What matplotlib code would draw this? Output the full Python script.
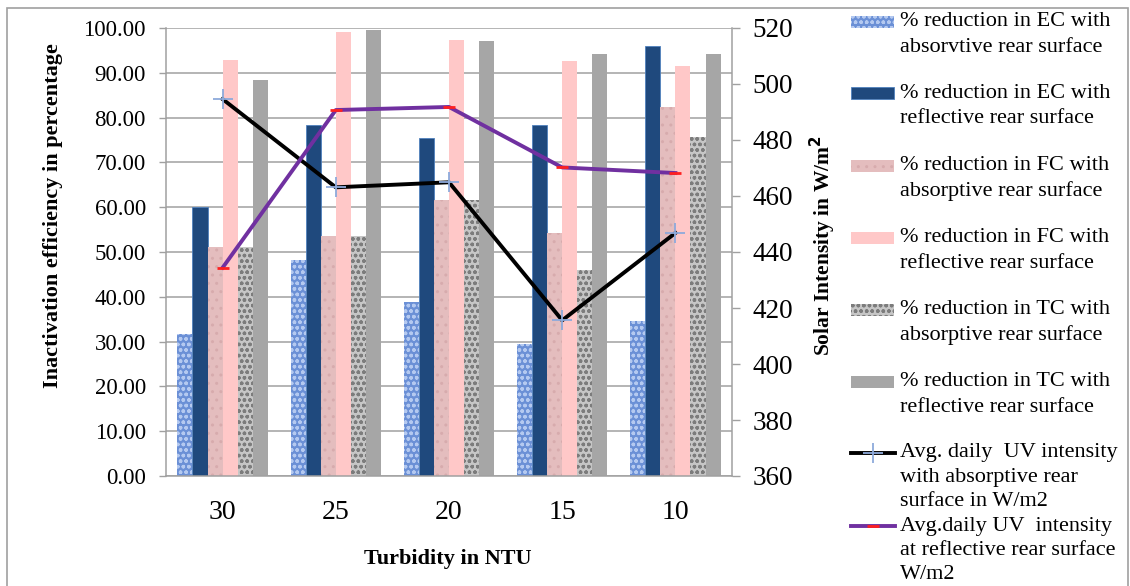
import matplotlib
matplotlib.use("Agg")
import matplotlib.pyplot as plt
import numpy as np
from matplotlib.patches import Rectangle
from matplotlib.lines import Line2D

plt.rcParams['font.family'] = ['Liberation Serif', 'DejaVu Serif']
plt.rcParams['hatch.linewidth'] = 1.0

# ---- data ----
turbidity = ['30', '25', '20', '15', '10']
ec_abs = [31.6, 48.2, 38.8, 29.4, 34.5]
ec_ref = [60.0, 78.3, 75.4, 78.3, 96.0]
fc_abs = [51.2, 53.5, 61.5, 54.2, 82.3]
fc_ref = [92.9, 99.2, 97.4, 92.6, 91.5]
tc_abs = [51.2, 53.5, 61.5, 45.9, 75.6]
tc_ref = [88.4, 99.5, 97.2, 94.1, 94.1]
uv_abs = [494.6, 463.1, 464.9, 415.6, 446.8]
uv_ref = [434.4, 490.7, 491.8, 470.2, 468.2]
left_ticks = [0, 10, 20, 30, 40, 50, 60, 70, 80, 90, 100]
right_ticks = [360, 380, 400, 420, 440, 460, 480, 500, 520]

labels = [
    ['% reduction in EC with', 'absorvtive rear surface'],
    ['% reduction in EC with', 'reflective rear surface'],
    ['% reduction in FC with', 'absorptive rear surface'],
    ['% reduction in FC with', 'reflective rear surface'],
    ['% reduction in TC with', 'absorptive rear surface'],
    ['% reduction in TC with', 'reflective rear surface'],
    ['Avg. daily  UV intensity', 'with absorptive rear', 'surface in W/m2'],
    ['Avg.daily UV  intensity', 'at reflective rear surface', 'W/m2'],
]

W, H = 1130, 586
fig = plt.figure(figsize=(W / 100, H / 100), dpi=100)

def fx(px):
    return px / W

def fy(py):
    return 1 - py / H

ax = fig.add_axes([fx(166), fy(476), fx(732) - fx(166), fy(28) - fy(476)])

bar_styles = [
    dict(facecolor='#6b90d6', edgecolor='#b4c9f0', hatch='ooo', linewidth=0),
    dict(facecolor='#1f497d', edgecolor='#4f81bd', linewidth=0.6),
    dict(facecolor='#e4bdbe', edgecolor='#d7abad', hatch='..', linewidth=0),
    dict(facecolor='#ffc8c8', edgecolor='#ffc8c8', linewidth=0),
    dict(facecolor='#c6c6c6', edgecolor='#7c7c7c', hatch='ooo', linewidth=0),
    dict(facecolor='#a6a6a6', edgecolor='#a6a6a6', linewidth=0),
]
series = [ec_abs, ec_ref, fc_abs, fc_ref, tc_abs, tc_ref]
x = np.arange(len(turbidity))
w = 0.8 / 6
for i, (vals, st) in enumerate(zip(series, bar_styles)):
    ax.bar(x + (i - 2.5) * w, vals, width=w, zorder=2, **st)

ax.set_xlim(-0.5, len(turbidity) - 0.5)
ax.set_ylim(0, 100)
ax.set_yticks(left_ticks)
ax.set_yticklabels([f'{v:.2f}' for v in left_ticks])
ax.set_xticks(x)
ax.set_xticklabels(turbidity)
ax.grid(axis='y', color='#a0a0a0', linewidth=1.1, zorder=0)
ax.set_axisbelow(True)
ax.tick_params(axis='x', length=0, pad=17, labelsize=20)
ax.tick_params(axis='y', length=5, width=1, color='#a0a0a0', pad=9.5, labelsize=16.5)
for s in ['left', 'bottom']:
    ax.spines[s].set_color('#a0a0a0')
    ax.spines[s].set_linewidth(1.1)
ax.spines['top'].set_visible(False)
ax.spines['right'].set_visible(False)

ax2 = ax.twinx()
ax2.set_ylim(360, 520)
ax2.set_yticks(right_ticks)
ax2.tick_params(axis='y', length=6, width=1, color='#a0a0a0', pad=9, labelsize=19.5)
for s in ['top', 'left', 'bottom']:
    ax2.spines[s].set_visible(False)
ax2.spines['right'].set_color('#a0a0a0')
ax2.spines['right'].set_linewidth(1.1)
ax2.plot(x, uv_abs, color='black', linewidth=2.8, marker='+', markersize=14,
         markeredgecolor='#8eaadb', markeredgewidth=1.3, zorder=3)
ax2.plot(x, uv_ref, color='#7030a0', linewidth=2.8, marker='_', markersize=9,
         markeredgecolor='#ff2020', markeredgewidth=2, zorder=3)

# axis titles
fig.text(fx(448), fy(559), 'Turbidity in NTU', fontsize=16, fontweight='bold',
         ha='center', va='center')
fig.text(fx(53), fy(216), 'Inactivation efficiency in percentage', fontsize=16,
         fontweight='bold', rotation=90, ha='center', va='center')
fig.text(fx(823), fy(246), 'Solar Intensity in W/m$^{\\mathbf{2}}$', fontsize=15.5,
         fontweight='bold', rotation=90, ha='center', va='center')

# outer chart border
fig.add_artist(Rectangle((fx(7), -0.1), fx(1128) - fx(7), fy(8) + 0.1,
                         transform=fig.transFigure, fill=False,
                         edgecolor='#a0a0a0', linewidth=1.2))

# legend
entry_y = [22, 93, 166, 238, 310, 382, 453, 526]
line_gaps = [25.3, 25.3, 25.3, 25.3, 25.3, 25.3, 24.5, 24.3]
for k, (lines, yy, gap) in enumerate(zip(labels, entry_y, line_gaps)):
    for j, t in enumerate(lines):
        fig.text(fx(900), fy(yy + j * gap), t, fontsize=16, ha='left', va='center')
    if k < 6:
        st = dict(bar_styles[k])
        fig.add_artist(Rectangle((fx(851), fy(yy + 6)), fx(894) - fx(851),
                                 fy(yy - 6) - fy(yy + 6),
                                 transform=fig.transFigure, **st))
    elif k == 6:
        fig.add_artist(Line2D([fx(851), fx(895)], [fy(yy), fy(yy)],
                              transform=fig.transFigure, color='black', linewidth=2.8))
        fig.add_artist(Line2D([fx(873)], [fy(yy)], transform=fig.transFigure,
                              marker='+', markersize=14, markeredgecolor='#8eaadb',
                              markeredgewidth=1.3, linestyle='none'))
    else:
        fig.add_artist(Line2D([fx(851), fx(895)], [fy(yy), fy(yy)],
                              transform=fig.transFigure, color='#7030a0', linewidth=2.8))
        fig.add_artist(Line2D([fx(873)], [fy(yy)], transform=fig.transFigure,
                              marker='_', markersize=9, markeredgecolor='#ff2020',
                              markeredgewidth=2, linestyle='none'))

fig.savefig('out.png', dpi=100)
